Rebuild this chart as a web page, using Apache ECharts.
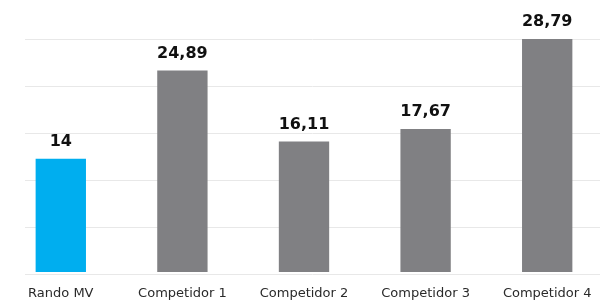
<!DOCTYPE html>
<html>
<head>
<meta charset="utf-8">
<script src="https://cdn.jsdelivr.net/npm/echarts@6/dist/echarts.min.js"></script>
<style>
  html, body { margin: 0; padding: 0; background: #fff; }
  #chart { width: 608px; height: 300px; }
</style>
</head>
<body>
<div id="chart"></div>
<script>
// 数据
var categories = ['Rando MV', 'Competidor 1', 'Competidor 2', 'Competidor 3', 'Competidor 4'];
var values = [14, 24.89, 16.11, 17.67, 28.79];
var barColors = ['#00aeef', '#808083', '#808083', '#808083', '#808083'];

var yMax = Math.max.apply(null, values);
var yInterval = yMax / 5;

var chart = echarts.init(document.getElementById('chart'));
var option = {
  animation: false,
  grid: [
    // bars
    { left: -1, right: -7, top: 39, bottom: 26 },
    // gridlines only
    { left: 25, right: 8, top: 39, bottom: 26 }
  ],
  xAxis: [
    {
      type: 'category',
      gridIndex: 0,
      data: categories,
      axisLine: { show: false },
      axisTick: { show: false },
      axisLabel: {
        margin: 15,
        fontFamily: 'DejaVu Sans',
        fontSize: 13,
        color: '#2a2a2a'
      }
    },
    { type: 'value', gridIndex: 1, show: false }
  ],
  yAxis: [
    {
      type: 'value',
      gridIndex: 0,
      min: 0,
      max: yMax,
      interval: yInterval,
      show: false
    },
    {
      type: 'value',
      gridIndex: 1,
      min: 0,
      max: yMax,
      interval: yInterval,
      axisLine: { show: false },
      axisTick: { show: false },
      axisLabel: { show: false },
      splitLine: { lineStyle: { color: '#e8e8e8', width: 1 } }
    }
  ],
  series: [{
    type: 'bar',
    xAxisIndex: 0,
    yAxisIndex: 0,
    barWidth: '41.4%',
    data: values.map(function (v, i) {
      return { value: v, itemStyle: { color: barColors[i] } };
    }),
    label: {
      show: true,
      position: 'top',
      distance: 9,
      fontFamily: 'DejaVu Sans',
      fontWeight: 'bold',
      fontSize: 16,
      color: '#111111',
      formatter: function (p) {
        return String(p.value).replace('.', ',');
      }
    }
  }]
};
chart.setOption(option, true);
</script>
</body>
</html>
